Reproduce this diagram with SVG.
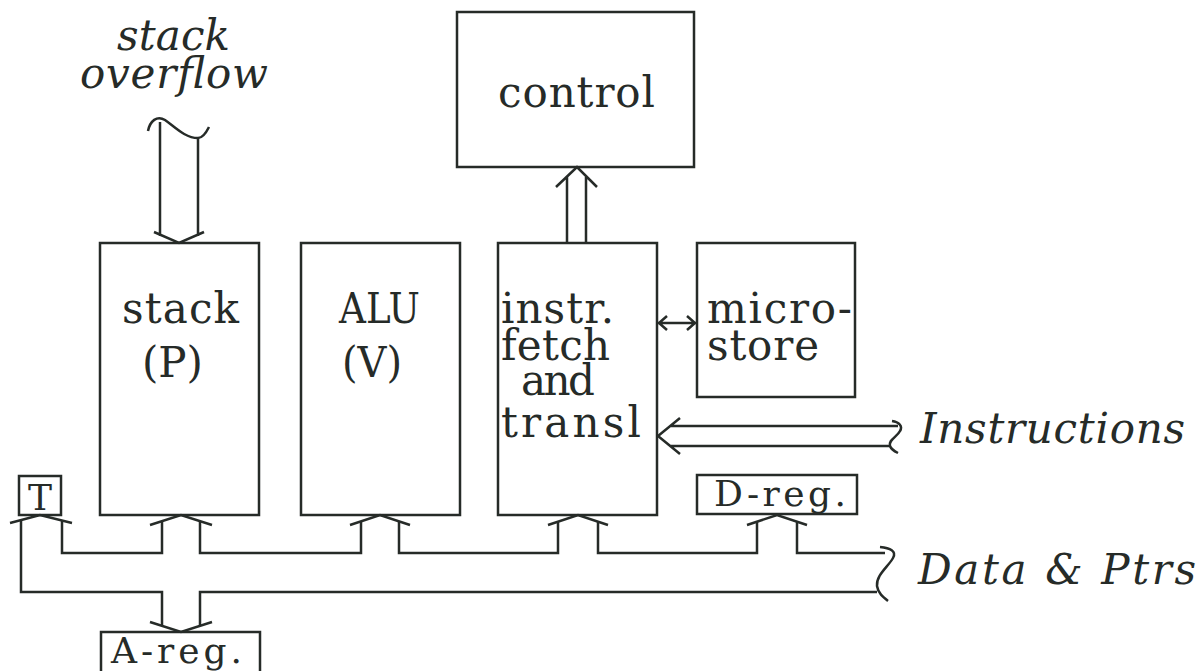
<svg xmlns="http://www.w3.org/2000/svg" width="1203" height="671" viewBox="0 0 1203 671">
<style>
.box{fill:none;stroke:#262b28;stroke-width:2.5}
.ln{fill:none;stroke:#262b28;stroke-width:2.5;stroke-linejoin:miter;stroke-linecap:butt}
.t{font-family:"DejaVu Serif","Liberation Serif",serif;font-size:42px;fill:#262b28}
.s{font-family:"DejaVu Serif","Liberation Serif",serif;font-size:36px;fill:#262b28}
.i{font-family:"DejaVu Serif","Liberation Serif",serif;font-style:italic;font-size:42px;fill:#262b28}
</style>
<rect width="1203" height="671" fill="#ffffff"/>
<g id="control">
<rect class="box" x="457" y="12" width="237" height="155"/>
<text class="t" x="498" y="107" textLength="157" lengthAdjust="spacing">control</text>
</g>
<g id="stack">
<rect class="box" x="100" y="243" width="159" height="272"/>
<text class="t" x="122" y="323" textLength="117" lengthAdjust="spacing">stack</text>
<text class="t" x="142" y="377" textLength="61" lengthAdjust="spacing">(P)</text>
</g>
<g id="alu">
<rect class="box" x="301" y="243" width="159" height="272"/>
<text class="t" x="339" y="323" textLength="81" lengthAdjust="spacingAndGlyphs">ALU</text>
<text class="t" x="342" y="377" textLength="60" lengthAdjust="spacingAndGlyphs">(V)</text>
</g>
<g id="instr">
<rect class="box" x="498" y="243" width="159" height="272"/>
<text class="t" x="501" y="323" textLength="113" lengthAdjust="spacing">instr.</text>
<text class="t" x="501" y="360" textLength="109" lengthAdjust="spacing">fetch</text>
<text class="t" x="521" y="395" textLength="74" lengthAdjust="spacing">and</text>
<text class="t" x="501" y="437" textLength="140" lengthAdjust="spacing">transl</text>
</g>
<g id="microstore">
<rect class="box" x="697" y="243" width="158" height="154"/>
<text class="t" x="707" y="323" textLength="145" lengthAdjust="spacing">micro-</text>
<text class="t" x="707" y="360" textLength="112" lengthAdjust="spacing">store</text>
</g>
<g id="treg">
<rect class="box" x="19" y="476" width="42" height="39"/>
<text class="s" x="40" y="510" text-anchor="middle">T</text>
</g>
<g id="dreg">
<rect class="box" x="697" y="475" width="160" height="39"/>
<text class="s" x="714" y="506" textLength="132" lengthAdjust="spacing">D-reg.</text>
</g>
<g id="areg">
<rect class="box" x="101" y="632" width="159" height="45"/>
<text class="s" x="111" y="663" textLength="131" lengthAdjust="spacing">A-reg.</text>
</g>
<g id="labels">
<text class="i" x="117" y="50" textLength="113" lengthAdjust="spacing">stack</text>
<text class="i" x="80" y="88" textLength="188" lengthAdjust="spacing">overflow</text>
<text class="i" x="920" y="443" textLength="265" lengthAdjust="spacing">Instructions</text>
<text class="i" x="918" y="584" textLength="278" lengthAdjust="spacing">Data &amp; Ptrs</text>
</g>
<g id="connectors">
<path class="ln" d="M160,122 V236 M198,138 V236 M154,232 L179,243 L204,232"/>
<path class="ln" d="M148,131 C150,121 157,115 165,120 C175,127 185,138 198,138 C203,138 206,133 209,127"/>
<path class="ln" d="M567,243 V177 M586,243 V177 M556,187 L577,167 L597,187"/>
<path class="ln" d="M658,323 H696 M667,316 L659,323 L667,330 M687,316 L695,323 L687,330"/>
<path class="ln" d="M670,426 H898 M670,446 H890 M680,418 L658,436 L680,454"/>
<path class="ln" d="M892,421 C899,422 903,426 900,431 C897,437 888,440 890,446 C891,449 894,451 898,453"/>
<path class="ln" d="M21,520 V592 H162 V626 M200,626 V592 H877"/>
<path class="ln" d="M62,520 V553 H162 V521 M200,521 V553 H361 V521 M399,521 V553 H558 V521 M598,521 V553 H757 V521 M797,521 V553 H885"/>
<path class="ln" d="M10,523 L40,515 L72,523"/>
<path class="ln" d="M150,525 L181,515 L212,525"/>
<path class="ln" d="M350,525 L380,515 L410,525"/>
<path class="ln" d="M548,525 L578,515 L608,525"/>
<path class="ln" d="M747,525 L777,515 L807,525"/>
<path class="ln" d="M150,622 L181,632 L212,622"/>
<path class="ln" d="M880,547 C890,548 897,551 893,558 C888,567 876,575 877,586 C878,593 883,597 888,601"/>
</g>
</svg>
